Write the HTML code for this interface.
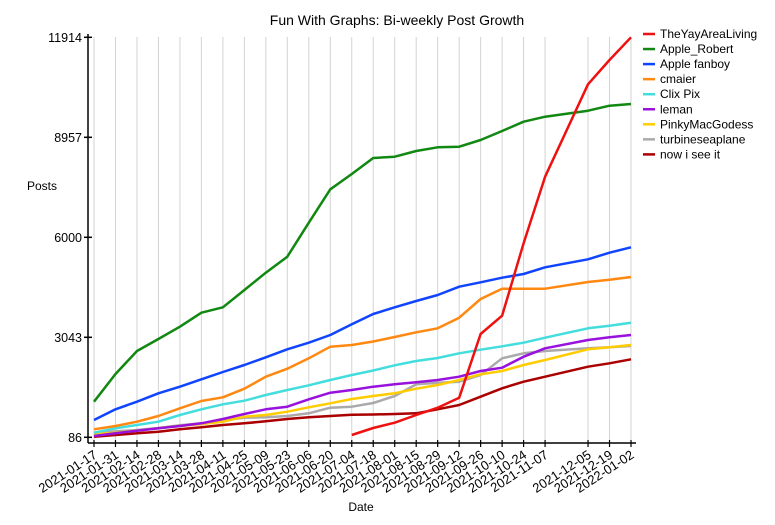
<!DOCTYPE html>
<html><head><meta charset="utf-8"><style>
html,body{margin:0;padding:0;background:#fff;}
svg{display:block;font-family:"Liberation Sans",Arial,sans-serif;}
</style></head><body>
<svg width="775" height="525" viewBox="0 0 775 525" xmlns="http://www.w3.org/2000/svg">
<rect width="775" height="525" fill="#fff"/>
<text x="397" y="25" font-size="14" text-anchor="middle">Fun With Graphs: Bi-weekly Post Growth</text>
<text x="27" y="190" font-size="12">Posts</text>
<text x="361" y="511" font-size="12" text-anchor="middle">Date</text>
<g id="grid" stroke="#d3d3d3" stroke-width="1"></g>
<g id="series" fill="none" stroke-width="2.5" stroke-linejoin="round"></g>
<g stroke="#000" stroke-width="1.5">
<line x1="88" y1="34" x2="88" y2="443"/>
<line x1="88" y1="443" x2="636" y2="443"/>
<line x1="84" y1="37.3" x2="92" y2="37.3"/>
<line x1="84" y1="137.3" x2="92" y2="137.3"/>
<line x1="84" y1="237.3" x2="92" y2="237.3"/>
<line x1="84" y1="337.3" x2="92" y2="337.3"/>
<line x1="84" y1="437.3" x2="92" y2="437.3"/>
</g>
<g font-size="12.5" text-anchor="end">
<text x="82" y="42">11914</text>
<text x="82" y="142">8957</text>
<text x="82" y="242">6000</text>
<text x="82" y="342">3043</text>
<text x="82" y="442">86</text>
</g>
<g id="xt" stroke="#000" stroke-width="1.2"></g>
<g id="xl" font-size="13" text-anchor="end"></g>
<g id="leg" font-size="12"></g>
</svg>
<script>
var NS="http://www.w3.org/2000/svg";
function el(t,a,p,txt){var e=document.createElementNS(NS,t);for(var k in a)e.setAttribute(k,a[k]);if(txt)e.textContent=txt;document.getElementById(p).appendChild(e);}
var dates=["2021-01-17","2021-01-31","2021-02-14","2021-02-28","2021-03-14","2021-03-28","2021-04-11","2021-04-25","2021-05-09","2021-05-23","2021-06-06","2021-06-20","2021-07-04","2021-07-18","2021-08-01","2021-08-15","2021-08-29","2021-09-12","2021-09-26","2021-10-10","2021-10-24","2021-11-07",null,"2021-12-05","2021-12-19","2022-01-02"];
function X(i){return 94+i*21.48;}
for(var i=0;i<26;i++){if(!dates[i])continue;var x=X(i);
el("line",{x1:x,y1:440,x2:x,y2:447},"xt");
el("line",{x1:x,y1:37,x2:x,y2:443},"grid");
var ax=x+4, ay=457;
el("text",{x:ax,y:ay,transform:"rotate(-33 "+ax+" "+ay+")"},"xl",dates[i]);}
var S=[
["TheYayAreaLiving","#ee1111",[null,null,null,null,null,null,null,null,null,null,null,null,435,428,422.7,415,407.7,397.7,334,315.7,243.3,176.7,null,84.3,60,37.3]],
["Apple_Robert","#118811",[401.7,374,351,339,326.7,312.7,307.3,290,272.7,256.7,222.7,189.3,174,158,156.7,151,147.3,146.7,140,131,121.7,116.7,null,110.7,105.7,104]],
["Apple fanboy","#1144ff",[420,409.3,401.7,393.3,386.7,379.3,372,365,357.3,349.3,342.7,335,324.3,314,307.3,301,295,286.7,282.3,277.7,274,267.3,null,259.3,252.7,247.3]],
["cmaier","#ff8811",[429.3,426,421.7,416,408.3,401,397.3,388.7,376.7,368.7,358.3,346.7,345,341.5,337,332.3,328.3,317.7,299,288.7,288.7,288.7,null,282,279.7,277]],
["Clix Pix","#44dddd",[432.7,428.3,425,421.7,415,409.3,404.3,400.7,395,390,385.3,380,375,370.5,365.3,361,358,353.3,349.7,346.3,342.7,337.7,null,328.3,325.7,322.7]],
["leman","#9911dd",[436,433.3,430.7,428.3,426,423.3,419,414,409.3,406.7,399.3,392.7,390,386.7,384.3,382.3,380,376.7,371,367.7,356.7,348.3,null,340,337.3,335]],
["PinkyMacGodess","#ffcc00",[434.3,432.7,430.7,428.3,426,424,421.7,416.7,415,411.7,407.3,403.3,399,396,393.3,388.7,385,380,374.3,371,365,360,null,349.3,347.3,345]],
["turbineseaplane","#aaaaaa",[432.7,431.3,430,428,425.3,423.3,420,417.7,417.3,416,413.3,407.7,406.7,403,396,384.3,382.7,381.7,375,358.3,353.3,351,null,348.3,347.3,346]],
["now i see it","#aa0000",[436.7,435,433.3,431.7,429.3,427.3,425,423.3,421.3,419,417.3,416,414.7,414.5,414,413.3,409.3,405,396.7,388.3,381.7,376.7,null,366.7,363.3,359.3]]];
S.slice().reverse().forEach(function(s){var p=[];s[2].forEach(function(y,i){if(y!=null)p.push(X(i).toFixed(1)+","+y);});
el("polyline",{points:p.join(" "),stroke:s[1]},"series");});
S.forEach(function(s,k){var y=34+k*15.05;
el("line",{x1:643,y1:y,x2:655,y2:y,stroke:s[1],"stroke-width":2.5},"leg");
el("text",{x:660,y:y+4},"leg",s[0]);});
</script>
</body></html>
